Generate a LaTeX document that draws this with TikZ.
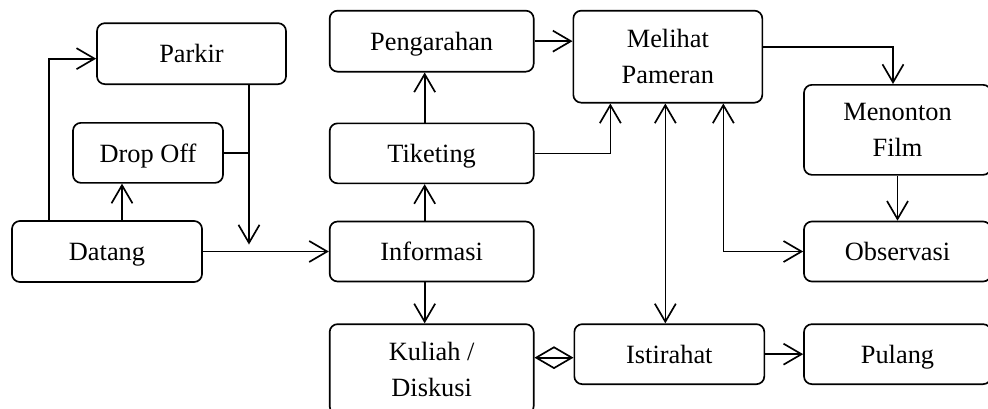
\documentclass[tikz,border=0pt]{standalone}
\usepackage{fontspec}
\setmainfont{Liberation Serif}
\usepackage{tikz}
\usetikzlibrary{arrows.meta, positioning, calc}

\begin{document}
\begin{tikzpicture}[
  line width=0.95pt,
  >={Straight Barb[length=0.36cm, width=0.42cm]},
  node/.style={rectangle, draw, rounded corners=4.5pt, inner sep=0pt, minimum height=1.2cm, align=center, font=\fontsize{15}{20.5}\selectfont},
  flat/.style={node, text depth=0pt}
]
  \useasboundingbox (0,0) rectangle (19.76,-8.16);

  \node[flat, minimum width=3.8cm, minimum height=1.22cm] (datang) at (2.14,-5.03) {Datang};
  \node[flat, minimum width=3.0cm, above=0.73cm of datang, xshift=0.82cm] (dropoff) {Drop Off};
  \node[flat, minimum width=3.78cm, minimum height=1.22cm, above=0.74cm of dropoff, xshift=0.87cm] (parkir) {Parkir};
  \node[flat, minimum width=4.08cm, right=2.52cm of datang] (informasi) {Informasi};
  \node[flat, minimum width=4.08cm, above=0.73cm of informasi] (tiketing) {Tiketing};
  \node[flat, minimum width=4.08cm, minimum height=1.22cm, above=1.0cm of tiketing] (pengarahan) {Pengarahan};
  \node[node, minimum width=4.08cm, minimum height=1.8cm, below=0.82cm of informasi] (kuliah) {Kuliah /\\Diskusi};
  \node[node, minimum width=3.78cm, minimum height=1.84cm, right=0.76cm of pengarahan.north east, anchor=north west] (melihat) {Melihat\\Pameran};
  \node[flat, minimum width=3.8cm, right=0.78cm of kuliah.north east, anchor=north west] (istirahat) {Istirahat};
  \node[flat, minimum width=3.74cm, right=0.76cm of istirahat] (pulang) {Pulang};
  \node[flat, minimum width=3.74cm, above=0.82cm of pulang] (observasi) {Observasi};
  \node[node, minimum width=3.74cm, minimum height=1.8cm, above=0.9cm of observasi] (menonton) {Menonton\\Film};

  \coordinate (merge) at ([xshift=1.15cm]parkir.south |- datang.east);

  \draw[->] ([xshift=-1.16cm]datang.north) |- ([yshift=-0.1cm]parkir.west);
  \draw[->] ([xshift=-0.52cm]dropoff.south |- datang.north) -- ([xshift=-0.52cm]dropoff.south);
  \draw[->, shorten >=0.14cm] ([xshift=1.15cm]parkir.south) -- (merge);
  \draw (dropoff.east) -- (dropoff.east -| merge);
  \draw[->] (datang.east) -- (informasi.west);
  \draw[->] ([xshift=-0.14cm]informasi.north) -- ([xshift=-0.14cm]tiketing.south);
  \draw[->] ([xshift=-0.14cm]tiketing.north) -- ([xshift=-0.14cm]pengarahan.south);
  \draw[->] ([xshift=-0.14cm]informasi.south) -- ([xshift=-0.14cm]kuliah.north);
  \draw[->] (pengarahan.east) -- (pengarahan.east -| melihat.west);
  \draw[->] (tiketing.east) -| ([xshift=-1.15cm]melihat.south);
  \draw[<->] ([xshift=-0.05cm]melihat.south) -- ([xshift=-0.05cm]melihat.south |- istirahat.north);
  \draw[<->] ([xshift=1.11cm]melihat.south) |- (observasi.west);
  \draw[->] ([yshift=0.2cm]melihat.east) -| ([xshift=-0.09cm]menonton.north);
  \draw[->] (menonton.south) -- (observasi.north);
  \draw[->] (istirahat.east) -- (pulang.west);
  \draw[<->] ([yshift=-0.07cm]istirahat.west) -- ([yshift=-0.07cm]istirahat.west -| kuliah.east);
\end{tikzpicture}
\end{document}
